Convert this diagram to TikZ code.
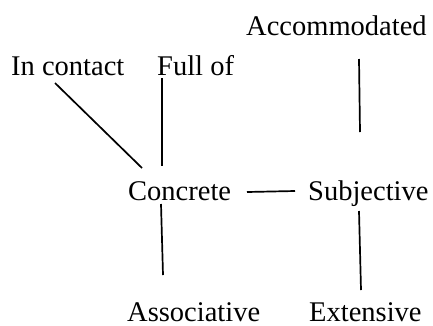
\documentclass[tikz,border=0pt]{standalone}
\usepackage{fontspec}
\setmainfont{Liberation Serif}
\begin{document}
\begin{tikzpicture}[x=1pt,y=-1pt,
  lbl/.style={anchor=base west,inner sep=0pt,font=\fontsize{28.5}{34}\selectfont},
  link/.style={line width=1.7pt,black}]
\useasboundingbox (0,0) rectangle (433,325);
\node[lbl] (acc) at (246,35) {Accommodated};
\node[lbl] (inc) at (11,75) {In contact};
\node[lbl] (full) at (157,75) {Full of};
\node[lbl] (conc) at (128,200) {Concrete};
\node[lbl] (subj) at (308,200) {Subjective};
\node[lbl,text depth=0pt] (asso) at (127,321) {Associative};
\node[lbl,text depth=0pt] (ext) at (309,321) {Extensive};
% connector end points
\coordinate (inc1) at (55,83);
\coordinate (inc2) at (142,168);
\coordinate (full1) at (162,78);
\coordinate (full2) at (162,166);
\coordinate (acc1) at (359,59);
\coordinate (acc2) at (360,132);
\coordinate (cs1) at (247,192);
\coordinate (cs2) at (295,191);
\coordinate (ca1) at (161,204);
\coordinate (ca2) at (163,275);
\coordinate (se1) at (359,211);
\coordinate (se2) at (361,290);
\draw[link] (inc1) -- (inc2);
\draw[link] (full1) -- (full2);
\draw[link] (acc1) -- (acc2);
\draw[link] (cs1) -- (cs2);
\draw[link] (ca1) -- (ca2);
\draw[link] (se1) -- (se2);
\end{tikzpicture}
\end{document}
